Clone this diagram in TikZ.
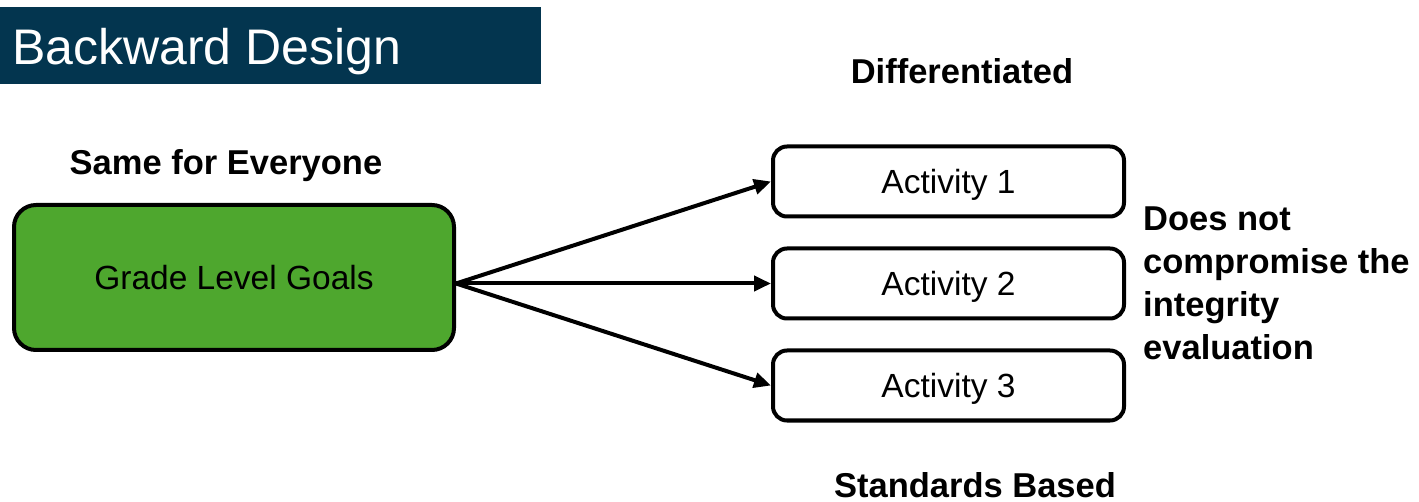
\documentclass[tikz,border=0pt]{standalone}
\usepackage{fontspec}
\setmainfont{Liberation Sans}
\usetikzlibrary{arrows.meta,calc}
\definecolor{navy}{HTML}{03354F}
\definecolor{goalgreen}{HTML}{4EA72E}
\tikzset{
  every picture/.style={x=1pt,y=-1pt},
  btxt/.style={inner sep=0pt,font=\fontsize{34.5}{40}\selectfont\bfseries},
  actbox/.style={draw=black,line width=4pt,rounded corners=14pt,minimum width=351pt,minimum height=70pt,
    text height=23.5pt,text depth=0pt,inner sep=0pt,font=\fontsize{33.5}{40}\selectfont},
  conn/.style={line width=4pt,-{Triangle[length=17pt,width=15pt]}}
}
\begin{document}
\begin{tikzpicture}
\useasboundingbox (0,0) rectangle (1419,502);
% title banner
\fill[navy] (0,7) rectangle (541,84);
\node[inner sep=0pt,anchor=base west,text=white,font=\fontsize{50}{60}\selectfont] (title) at (12,65) {Backward Design};
% goal box
\node[draw=black,fill=goalgreen,line width=4pt,rounded corners=22pt,minimum width=440pt,minimum height=145pt,
  text height=23.5pt,text depth=0pt,inner sep=0pt,font=\fontsize{33.5}{40}\selectfont] (goal) at (234,277.5) {Grade Level Goals};
\node[btxt,anchor=base] (same) at (226,175) {Same for Everyone};
% activities
\node[actbox] (a1) at (948.5,181.5) {Activity 1};
\node[actbox] (a2) at (948.5,283.5) {Activity 2};
\node[actbox] (a3) at (948.5,385.5) {Activity 3};
\node[btxt,anchor=base] (diff) at (962,84) {Differentiated};
\node[btxt,anchor=base] (std) at (975,497) {Standards Based};
\node[btxt,anchor=base west] (l1) at (1143,231) {Does not};
\node[btxt,anchor=base west] (l2) at (1143,274) {compromise the};
\node[btxt,anchor=base west] (l3) at (1143,317) {integrity};
\node[btxt,anchor=base west] (l4) at (1143,360) {evaluation};
% connectors
\coordinate (src) at (goal.east |- a2.west);
\draw[conn] (src) -- (a1.west);
\draw[conn] (src) -- (a2.west);
\draw[conn] (src) -- (a3.west);
\end{tikzpicture}
\end{document}
